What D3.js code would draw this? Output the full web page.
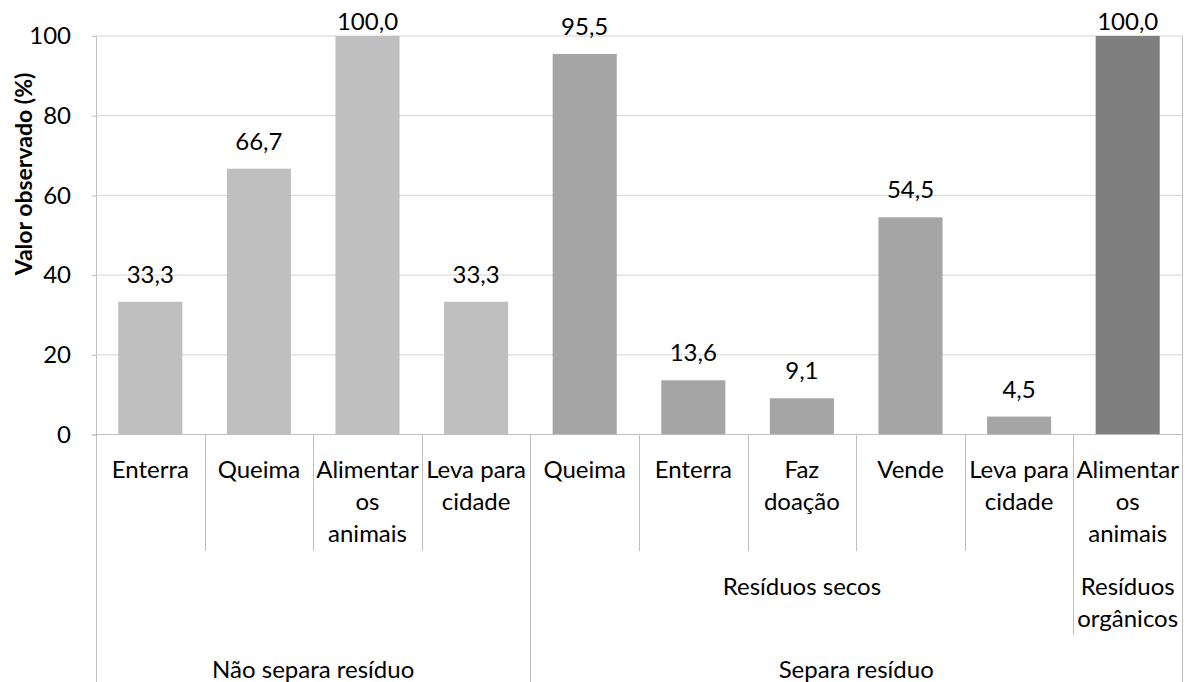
<!DOCTYPE html>
<html>
<head>
<meta charset="utf-8">
<script src="https://cdn.jsdelivr.net/npm/d3@7"></script>
<style>
  body { margin: 0; background: #fff; }
  text { font-family: Lato, "Open Sans", sans-serif; fill: #000; }
</style>
</head>
<body>
<svg id="chart" width="1185" height="682"></svg>
<script>
// Destination of household waste, by sorting practice
const categories = [
  "Enterra", "Queima", "Alimentar\nos\nanimais", "Leva para\ncidade",
  "Queima", "Enterra", "Faz\ndoação", "Vende", "Leva para\ncidade", "Alimentar\nos\nanimais"
];
const values = [33.3, 66.7, 100.0, 33.3, 95.5, 13.6, 9.1, 54.5, 4.5, 100.0];

// Middle level of the category axis (first index, last index)
const subgroupNames = ["Resíduos secos", "Resíduos\norgânicos"];
const subgroupSpans = [[4, 8], [9, 9]];

// Outer level of the category axis
const groupNames = ["Não separa resíduo", "Separa resíduo"];
const groupSpans = [[0, 3], [4, 9]];

const yTicks = [0, 20, 40, 60, 80, 100];
const yTitle = "Valor observado (%)";

// Bar shade: unsorted, dry waste, organic waste
const shades = ["#bfbfbf", "#a5a5a5", "#7f7f7f"];

const svg = d3.select("#chart");
const plotLeft = 96, plotRight = 1182, plotTop = 36, zeroY = 434.5;
const axisColor = "#bfbfbf", gridColor = "#d4d4d4";
const fontSize = 24;

const idx = d3.range(categories.length);
const xCat = d3.scaleBand().domain(idx).range([plotLeft, plotRight]).padding(0);
const xBar = d3.scaleBand().domain(idx).range([plotLeft, plotRight])
  .paddingInner(0.41).paddingOuter(0.205);
const y = d3.scaleLinear().domain([0, 100]).range([zeroY, plotTop]);

function shadeOf(i) {
  if (i >= subgroupSpans[1][0] && i <= subgroupSpans[1][1]) return shades[2];
  if (i >= subgroupSpans[0][0] && i <= subgroupSpans[0][1]) return shades[1];
  return shades[0];
}

// Gridlines and y axis
const yAxis = d3.axisLeft(y).tickValues(yTicks).tickSize(4).tickPadding(21)
  .tickFormat(d3.format("d"));
const gy = svg.append("g").attr("transform", `translate(${plotLeft},0)`).call(yAxis);
gy.select(".domain").attr("stroke", axisColor);
gy.selectAll(".tick line").attr("stroke", axisColor);
gy.selectAll(".tick text").attr("font-size", fontSize).attr("font-family", "Lato")
  .attr("fill", "#000");

svg.append("g").selectAll("line").data(yTicks.filter(t => t > 0)).join("line")
  .attr("x1", plotLeft).attr("x2", plotRight)
  .attr("y1", d => y(d)).attr("y2", d => y(d))
  .attr("stroke", gridColor).attr("stroke-width", 1);

// Bars
svg.append("g").selectAll("rect").data(values).join("rect")
  .attr("x", (d, i) => xBar(i))
  .attr("width", xBar.bandwidth())
  .attr("y", d => y(d))
  .attr("height", d => zeroY - y(d))
  .attr("fill", (d, i) => shadeOf(i));

// Value labels (kept inside the chart when a bar reaches the top)
svg.append("g").selectAll("text").data(values).join("text")
  .attr("x", (d, i) => xBar(i) + xBar.bandwidth() / 2)
  .attr("y", d => Math.max(y(d) - 19, 30))
  .attr("text-anchor", "middle")
  .attr("font-size", fontSize)
  .text(d => d3.format(".1f")(d).replace(".", ","));

// Category axis baseline
svg.append("line").attr("x1", plotLeft).attr("x2", plotRight)
  .attr("y1", zeroY).attr("y2", zeroY).attr("stroke", axisColor);

// Category separators: inner level, middle level, outer level
const row1Bottom = 551, row2Bottom = 635, chartBottom = 682;
const sepLines = [];
idx.slice(1).forEach(i => {
  const isGroup = groupSpans.some(s => s[0] === i);
  const isSub = subgroupSpans.some(s => s[0] === i);
  sepLines.push({ x: xCat(i), y2: isGroup ? chartBottom : isSub ? row2Bottom : row1Bottom });
});
sepLines.push({ x: plotLeft, y2: chartBottom });
svg.append("g").selectAll("line").data(sepLines).join("line")
  .attr("x1", d => Math.round(d.x) + 0.5).attr("x2", d => Math.round(d.x) + 0.5)
  .attr("y1", zeroY).attr("y2", d => d.y2)
  .attr("stroke", axisColor);
// Right frame edge
svg.append("line").attr("x1", plotRight + 0.5).attr("x2", plotRight + 0.5)
  .attr("y1", plotTop).attr("y2", chartBottom).attr("stroke", axisColor);

function multiline(sel, baseline, lineH) {
  sel.each(function (d) {
    const t = d3.select(this);
    d.text.split("\n").forEach((ln, k) => {
      t.append("tspan").attr("x", d.x).attr("y", baseline + k * lineH).text(ln);
    });
  });
}

// Inner labels
svg.append("g").selectAll("text")
  .data(categories.map((c, i) => ({ text: c, x: xCat(i) + xCat.bandwidth() / 2 })))
  .join("text").attr("text-anchor", "middle").attr("font-size", fontSize)
  .call(multiline, 478, 32);

// Middle labels
svg.append("g").selectAll("text")
  .data(subgroupNames.map((n, k) => ({
    text: n,
    x: (xCat(subgroupSpans[k][0]) + xCat(subgroupSpans[k][1]) + xCat.bandwidth()) / 2
  })))
  .join("text").attr("text-anchor", "middle").attr("font-size", fontSize)
  .call(multiline, 595, 32);

// Outer labels
svg.append("g").selectAll("text")
  .data(groupNames.map((n, k) => ({
    text: n,
    x: (xCat(groupSpans[k][0]) + xCat(groupSpans[k][1]) + xCat.bandwidth()) / 2
  })))
  .join("text").attr("text-anchor", "middle").attr("font-size", fontSize)
  .call(multiline, 678, 32);

// Y axis title
svg.append("text")
  .attr("transform", "translate(32,174) rotate(-90)")
  .attr("text-anchor", "middle")
  .attr("font-size", 23)
  .attr("font-weight", "bold")
  .text(yTitle);
</script>
</body>
</html>
